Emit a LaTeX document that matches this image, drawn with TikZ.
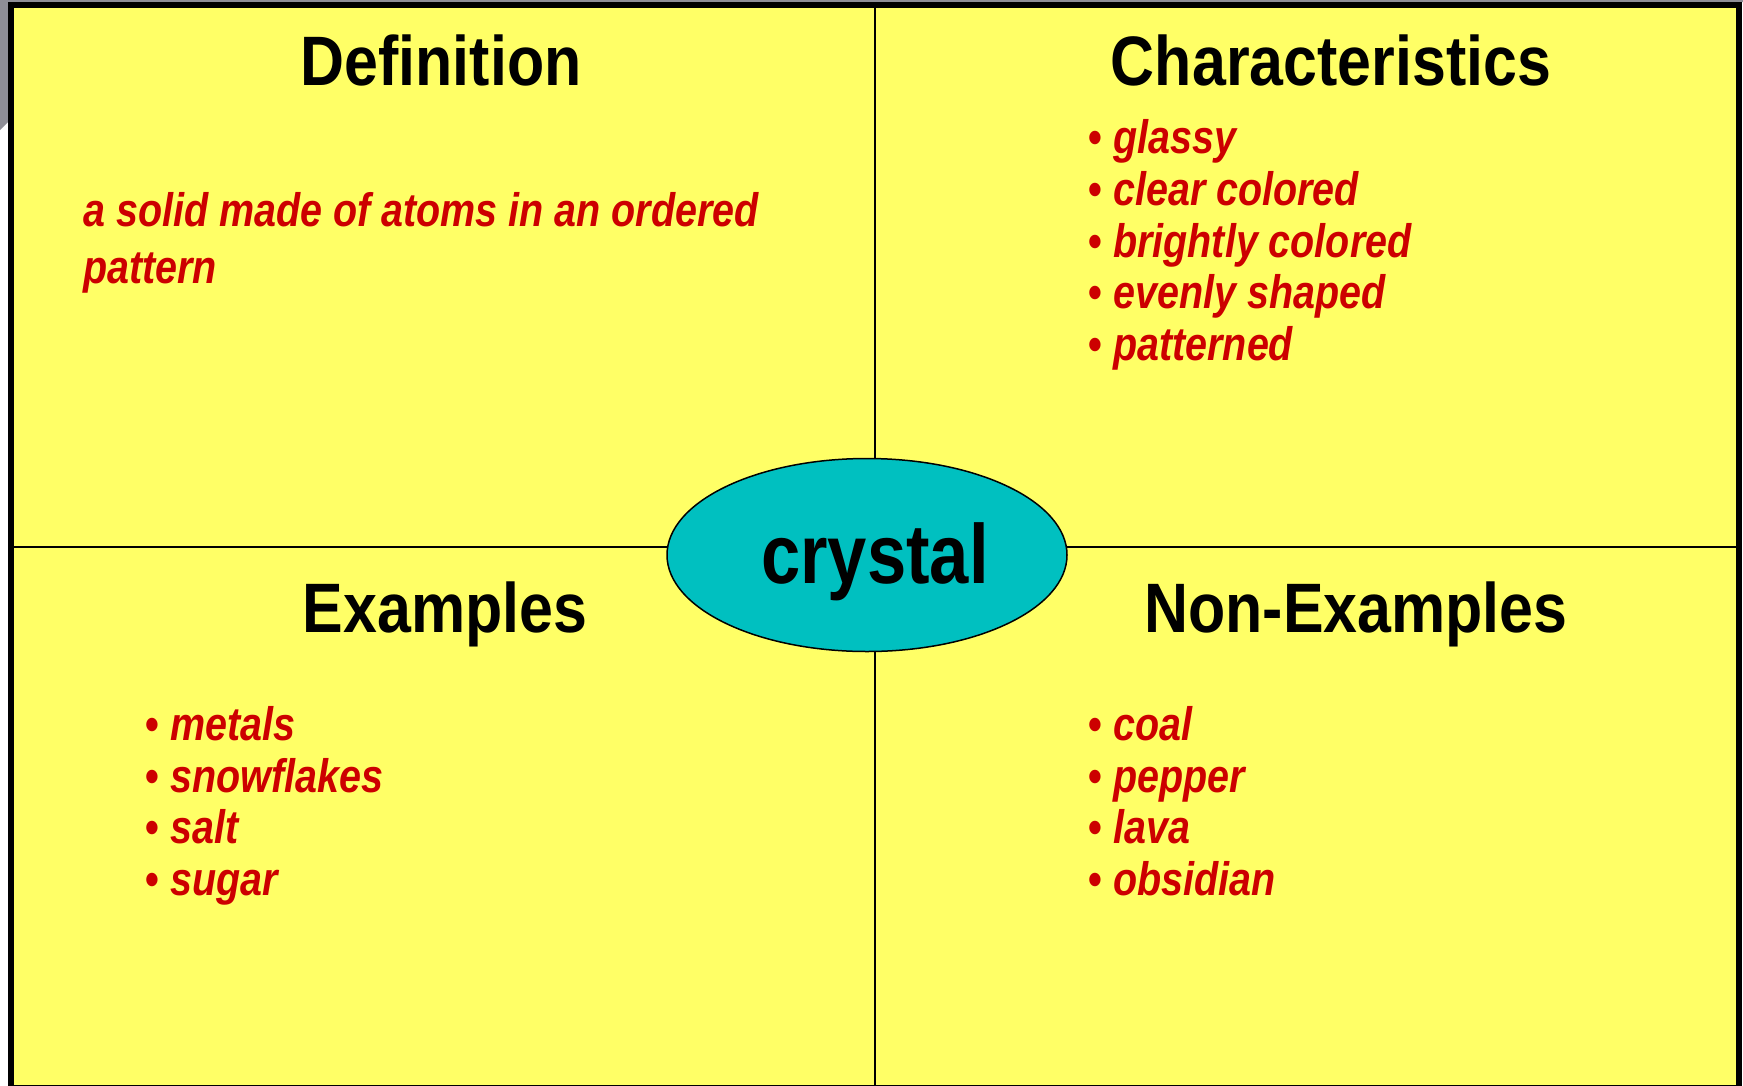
\documentclass[tikz,border=0pt]{standalone}
\usepackage{fontspec}
\setmainfont{Liberation Sans}[FakeStretch=0.84]
\newfontfamily\titlefamily{Liberation Sans}[FakeStretch=0.87]
\usetikzlibrary{shapes.geometric}
\definecolor{cellyellow}{HTML}{FFFF66}
\definecolor{itemred}{HTML}{CC0000}
\definecolor{coreteal}{HTML}{00C0C0}
\definecolor{framegray}{HTML}{8E8E96}
\newcommand\bulmark{\makebox[25pt][l]{\upshape •}}
\begin{document}
\begin{tikzpicture}[x=1pt,y=-1pt,
  title/.style={anchor=base,inner sep=0pt,font=\titlefamily\fontsize{70}{84}\selectfont\bfseries},
  item/.style={anchor=base west,inner sep=0pt,text=itemred,font=\fontsize{47}{57}\selectfont\bfseries\itshape},
  divider/.style={draw=black,line width=1.6pt},
  core/.style={ellipse,draw=black,line width=1.5pt,fill=coreteal,minimum width=400pt,minimum height=193pt,inner sep=0pt,text height=62pt,text depth=6pt,font=\fontsize{84}{100}\selectfont\bfseries}]
\useasboundingbox (0,0) rectangle (1743,1085);
\clip (0,0) rectangle (1743,1085);
\fill[white] (0,0) rectangle (1743,1085);
\fill[framegray] (0,0) -- (1743,0) -- (1743,2) -- (8,2) -- (8,122) -- (0,130) -- cycle;
% frame corners
\coordinate (tl) at (11,5);
\coordinate (br) at (1739,1088);
\coordinate (topmid) at (875,5);
\coordinate (botmid) at (875,1088);
\coordinate (leftmid) at (11,547);
\coordinate (rightmid) at (1739,547);
\fill[cellyellow] (tl) rectangle (br);
\draw[divider] (topmid) -- (botmid);
\draw[divider] (leftmid) -- (rightmid);
\draw[black,line width=6pt] (tl) rectangle (br);
% titles
\node[title] (deft) at (441,85) {Definition};
\node[title] (chart) at (1331,85) {Characteristics};
\node[title] (exat) at (445,632) {Examples};
\node[title] (nont) at (1356,632) {Non-Examples};
% definition
\node[item,align=left] (defn) at (83,283) {a solid made of atoms in an ordered\\pattern};
% characteristics
\node[item] (c1) at (1088,153) {\bulmark glassy};
\node[item] (c2) at (1088,205) {\bulmark clear colored};
\node[item] (c3) at (1088,257) {\bulmark brightly colored};
\node[item] (c4) at (1088,308) {\bulmark evenly shaped};
\node[item] (c5) at (1088,360) {\bulmark patterned};
% examples
\node[item] (e1) at (145,740) {\bulmark metals};
\node[item] (e2) at (145,792) {\bulmark snowflakes};
\node[item] (e3) at (145,843) {\bulmark salt};
\node[item] (e4) at (145,895) {\bulmark sugar};
% non-examples
\node[item] (n1) at (1088,740) {\bulmark coal};
\node[item] (n2) at (1088,792) {\bulmark pepper};
\node[item] (n3) at (1088,843) {\bulmark lava};
\node[item] (n4) at (1088,895) {\bulmark obsidian};
% centre
\node[core] (crys) at (867,555) {\hspace*{16pt}crystal};
\end{tikzpicture}
\end{document}
